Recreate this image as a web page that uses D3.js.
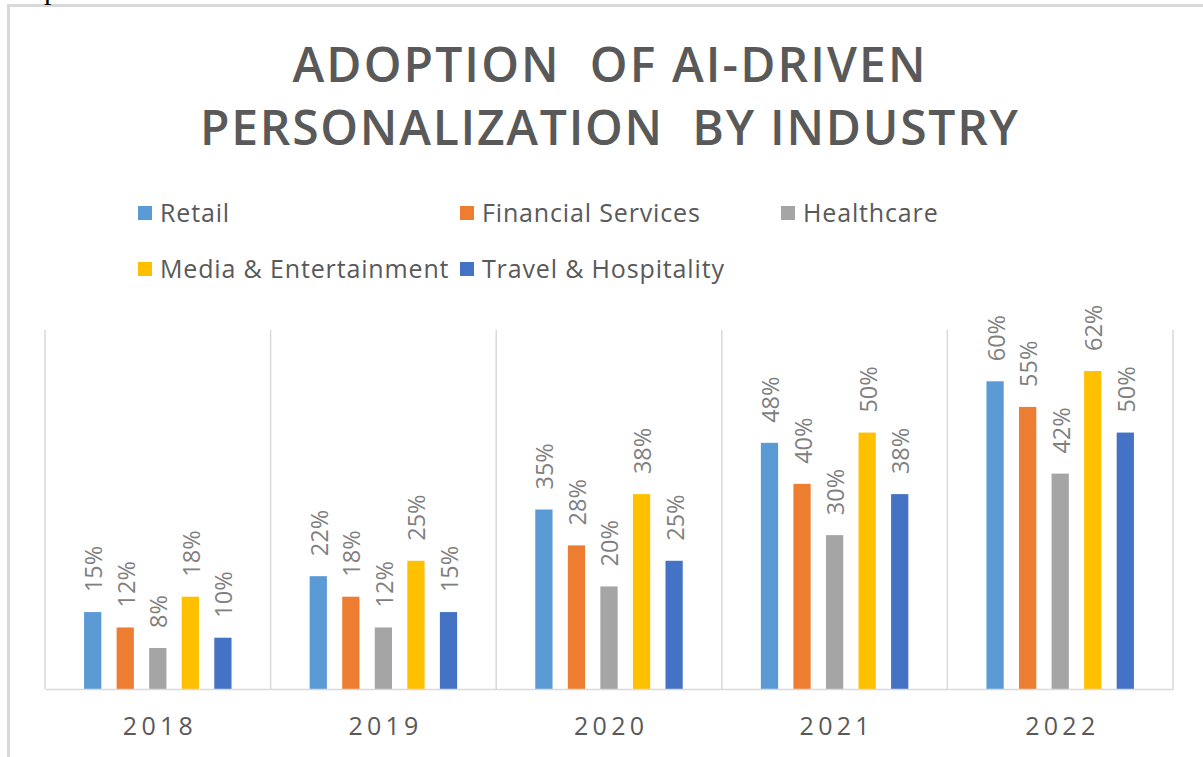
<!DOCTYPE html>
<html>
<head>
<meta charset="utf-8">
<script src="https://cdn.jsdelivr.net/npm/d3@7"></script>
<style>
  body { margin: 0; background: #fff; }
  svg { display: block; font-family: "Open Sans", sans-serif; }
</style>
</head>
<body>
<div id="chart"></div>
<script>
// Chart data
const years = ['2018', '2019', '2020', '2021', '2022'];
const industries = ['Retail', 'Financial Services', 'Healthcare', 'Media & Entertainment', 'Travel & Hospitality'];
const retail = [15, 22, 35, 48, 60];
const financialServices = [12, 18, 28, 40, 55];
const healthcare = [8, 12, 20, 30, 42];
const mediaEntertainment = [18, 25, 38, 50, 62];
const travelHospitality = [10, 15, 25, 38, 50];
const yDomainMax = 70;

const seriesValues = [retail, financialServices, healthcare, mediaEntertainment, travelHospitality];
const colors = ['#5B9BD5', '#ED7D31', '#A5A5A5', '#FFC000', '#4472C4'];

// Build grouped table: one row per year
const data = years.map((year, i) => ({
  year: year,
  values: industries.map((industry, j) => ({ industry: industry, value: seriesValues[j][i] }))
}));

const width = 1203, height = 757;
const plot = { left: 45, right: 1173, top: 330, bottom: 689 };

const svg = d3.select('#chart').append('svg')
  .attr('width', width)
  .attr('height', height);

// Outer frame (cropped off on the right and bottom)
svg.append('rect')
  .attr('x', 8.5).attr('y', 5.5)
  .attr('width', 1400).attr('height', 900)
  .attr('fill', 'none')
  .attr('stroke', '#d9d9d9')
  .attr('stroke-width', 3);

// stray glyph fragment at the top edge (cut off in the original too)
svg.append('text')
  .attr('x', 44).attr('y', -1)
  .attr('font-family', 'Liberation Serif')
  .attr('font-size', 30)
  .attr('fill', '#000')
  .text('p');

// Title
const titleLines = [
  { text: 'ADOPTION  OF AI-DRIVEN', y: 82, len: 633 },
  { text: 'PERSONALIZATION  BY INDUSTRY', y: 145, len: 818 }
];
svg.selectAll('.title')
  .data(titleLines)
  .join('text')
  .attr('class', 'title')
  .attr('x', 609)
  .attr('y', d => d.y)
  .attr('text-anchor', 'middle')
  .attr('font-size', 48)
  .attr('font-weight', 600)
  .attr('fill', '#595959')
  .attr('textLength', d => d.len)
  .attr('lengthAdjust', 'spacing')
  .style('white-space', 'pre')
  .text(d => d.text);

// Legend: three columns, wraps to a second row
const legendCols = [138, 460, 781];
const legend = svg.selectAll('.legend-item')
  .data(industries)
  .join('g')
  .attr('class', 'legend-item')
  .attr('transform', (d, i) => `translate(${legendCols[i % 3]},${i < 3 ? 206 : 262})`);
legend.append('rect')
  .attr('width', 14).attr('height', 14)
  .attr('fill', (d, i) => colors[i]);
legend.append('text')
  .attr('x', 22)
  .attr('y', 16)
  .attr('font-size', 25)
  .attr('letter-spacing', 0.85)
  .attr('fill', '#595959')
  .text(d => d);

// Scales
const x0 = d3.scaleBand()
  .domain(years)
  .range([plot.left, plot.right])
  .paddingInner(0)
  .paddingOuter(0);

const x1 = d3.scaleBand()
  .domain(industries)
  .range([0, x0.bandwidth()])
  .paddingInner(0.47)
  .paddingOuter(1.2);

const y = d3.scaleLinear()
  .domain([0, yDomainMax])
  .range([plot.bottom, plot.top]);

const color = d3.scaleOrdinal().domain(industries).range(colors);

// Vertical gridlines between categories
const gridXs = years.map(d => x0(d)).concat([x0.range()[1]]);
svg.append('g')
  .attr('class', 'grid')
  .selectAll('line')
  .data(gridXs)
  .join('line')
  .attr('x1', d => d).attr('x2', d => d)
  .attr('y1', plot.top).attr('y2', plot.bottom)
  .attr('stroke', '#d9d9d9')
  .attr('stroke-width', 1.5);

// Bars
const groups = svg.append('g')
  .selectAll('.year-group')
  .data(data)
  .join('g')
  .attr('class', 'year-group')
  .attr('transform', d => `translate(${x0(d.year)},0)`);

groups.selectAll('.bar')
  .data(d => d.values)
  .join('rect')
  .attr('class', 'bar')
  .attr('x', d => x1(d.industry))
  .attr('width', x1.bandwidth())
  .attr('y', d => y(d.value))
  .attr('height', d => y(0) - y(d.value))
  .attr('fill', d => color(d.industry));

// Rotated value labels
groups.selectAll('.label')
  .data(d => d.values)
  .join('text')
  .attr('class', 'label')
  .attr('transform', d => `translate(${x1(d.industry) + x1.bandwidth() / 2 + 1},${y(d.value) - 20}) rotate(-90)`)
  .attr('dy', '0.36em')
  .attr('font-size', 23.5)
  .attr('fill', '#7f7f7f')
  .text(d => d.value + '%');

// X axis
const xAxis = d3.axisBottom(x0)
  .tickSize(0)
  .tickSizeOuter(0)
  .tickPadding(0);

const xAxisG = svg.append('g')
  .attr('class', 'x-axis')
  .attr('transform', `translate(0,${plot.bottom})`)
  .call(xAxis);

xAxisG.select('.domain')
  .attr('stroke', '#d9d9d9')
  .attr('stroke-width', 1.5);

xAxisG.selectAll('.tick text')
  .attr('y', 46)
  .attr('dy', 0)
  .attr('font-family', '"Open Sans", sans-serif')
  .attr('font-size', 25)
  .attr('fill', '#595959')
  .attr('textLength', 70)
  .attr('lengthAdjust', 'spacing');
</script>
</body>
</html>
